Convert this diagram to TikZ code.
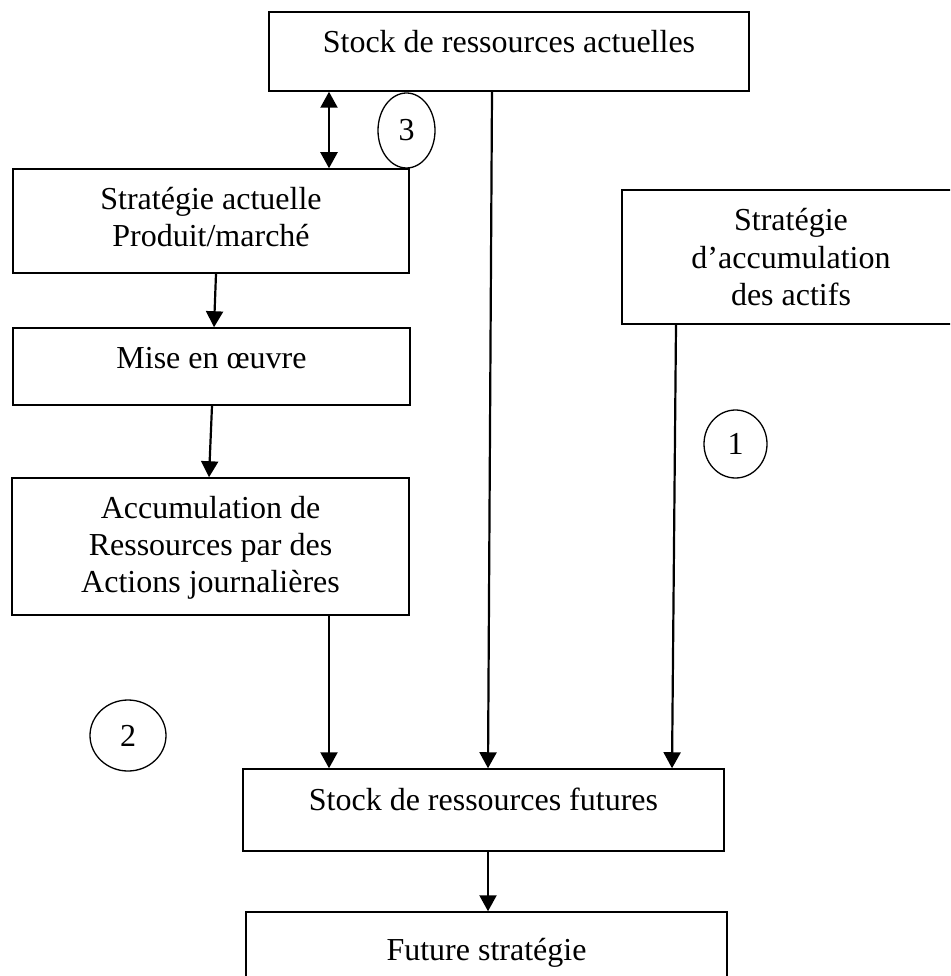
\documentclass[tikz,border=0pt]{standalone}
\usepackage{fontspec}
\setmainfont{Liberation Serif}
\usetikzlibrary{arrows.meta,shapes.geometric}
\begin{document}
\begin{tikzpicture}[x=1pt,y=-1pt,
  box/.style={draw, line width=1.5pt, inner sep=0pt, rectangle},
  txt/.style={inner sep=0pt, anchor=base, align=flush center, text width=#1,
    font=\fontsize{32}{37}\selectfont},
  num/.style={draw, ellipse, line width=1.3pt, inner sep=0pt,
    font=\fontsize{32}{37}\selectfont},
  arr/.style={line width=2.2pt, -{Triangle[width=17pt,length=16pt]}},
  darr/.style={line width=2.2pt, {Triangle[width=17pt,length=16pt]}-{Triangle[width=17pt,length=16pt]}}
]
\useasboundingbox (0,0) rectangle (950,976);
\clip (0,0) rectangle (950,976);

% boxes
\node[box, minimum width=480pt, minimum height=79pt] (top) at (509,51.5) {};
\node[box, minimum width=396pt, minimum height=104pt] (strat) at (211,221) {};
\node[box, minimum width=397pt, minimum height=77pt] (mise) at (211.5,366.5) {};
\node[box, minimum width=397pt, minimum height=137pt] (acc) at (210.5,546.5) {};
\node[box, minimum width=338pt, minimum height=134pt] (right) at (791,257) {};
\node[box, minimum width=481pt, minimum height=82pt] (fut) at (483.5,810) {};
\node[box, minimum width=481pt, minimum height=82pt] (future) at (486.5,953) {};

% texts
\node[txt=460pt] (topT) at (509,53) {Stock de ressources actuelles};
\node[txt=380pt] (stratT) at (211,210) {Stratégie actuelle\\Produit/marché};
\node[txt=380pt] (miseT) at (211.5,368) {Mise en œuvre};
\node[txt=380pt] (accT) at (210.5,518) {Accumulation de\\Ressources par des\\Actions journalières};
\node[txt=320pt] (rightT) at (791,231) {Stratégie\\d’accumulation\\des actifs};
\node[txt=460pt] (futT) at (483.5,810) {Stock de ressources futures};
\node[txt=460pt] (futureT) at (486.5,960) {Future stratégie};

% numbered ellipses
\node[num, minimum width=57pt, minimum height=75pt] (c3) at (406.5,130.5) {3};
\node[num, minimum width=63pt, minimum height=68pt] (c1) at (735.5,444) {1};
\node[num, minimum width=76pt, minimum height=71pt] (c2) at (128,735.5) {2};

% connectors
\draw[darr] ([xshift=-180pt]top.south) -- ([xshift=118pt]strat.north);
\draw[arr] ([xshift=-17pt]top.south) -- ([xshift=4.5pt]fut.north);
\draw[arr] ([xshift=5pt]strat.south) -- ([xshift=2.5pt]mise.north);
\draw[arr] ([xshift=0.5pt]mise.south) -- ([xshift=-1.5pt]acc.north);
\draw[arr] ([xshift=118.5pt]acc.south) -- ([xshift=-154.5pt]fut.north);
\draw[arr] ([xshift=-115pt]right.south) -- ([xshift=188.5pt]fut.north);
\draw[arr] ([xshift=4.5pt]fut.south) -- ([xshift=1.5pt]future.north);
\end{tikzpicture}
\end{document}
